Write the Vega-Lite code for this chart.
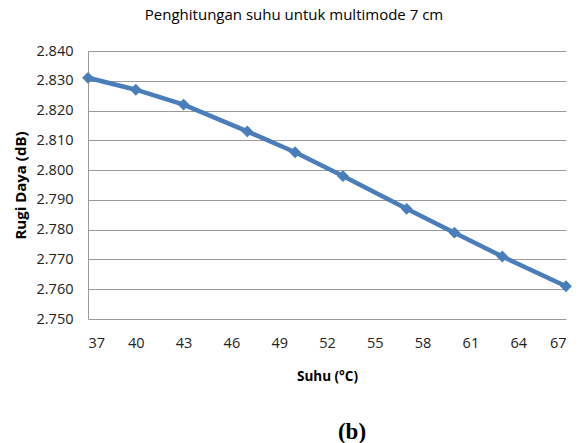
{
  "$schema": "https://vega.github.io/schema/vega-lite/v6.json",
  "padding": {"left": 13, "top": 8, "right": 10, "bottom": 5},
  "background": "white",
  "title": {"text": "(b)", "orient": "bottom", "anchor": "middle", "frame": "bounds", "dx": 58, "font": "Liberation Serif", "fontSize": 23, "fontWeight": "bold", "color": "#000000", "offset": 38},
  "vconcat": [
    {
      "width": 478,
      "height": 268,
      "title": {"text": "Penghitungan  suhu untuk multimode 7 cm", "font": "Open Sans", "fontSize": 15, "fontWeight": "normal", "color": "#000000", "anchor": "middle", "frame": "bounds", "offset": 20},
      "data": {"values": [
        {"suhu": 37, "rugi": 2.831},
        {"suhu": 40, "rugi": 2.827},
        {"suhu": 43, "rugi": 2.822},
        {"suhu": 47, "rugi": 2.813},
        {"suhu": 50, "rugi": 2.806},
        {"suhu": 53, "rugi": 2.798},
        {"suhu": 57, "rugi": 2.787},
        {"suhu": 60, "rugi": 2.779},
        {"suhu": 63, "rugi": 2.771},
        {"suhu": 67, "rugi": 2.761}
      ]},
      "mark": {"type": "line", "color": "#4a7ebb", "strokeWidth": 4.5, "point": {"shape": "diamond", "size": 140, "filled": true, "color": "#4a7ebb"}},
      "encoding": {
        "x": {"field": "suhu", "type": "quantitative", "title": "Suhu (°C)",
          "scale": {"domain": [37, 67], "nice": false, "zero": false},
          "axis": {"values": [37, 40, 43, 46, 49, 52, 55, 58, 61, 64, 67], "grid": false, "domain": false, "ticks": false, "labelPadding": 17, "labelFont": "Open Sans", "labelFontSize": 14.5, "labelColor": "#222222", "titleFont": "Open Sans", "titleFontSize": 13.5, "titleFontWeight": "bold", "titleColor": "#000000", "titlePadding": 20}},
        "y": {"field": "rugi", "type": "quantitative", "title": "Rugi Daya  (dB)",
          "scale": {"domain": [2.75, 2.84], "nice": false, "zero": false},
          "axis": {"values": [2.75, 2.76, 2.77, 2.78, 2.79, 2.8, 2.81, 2.82, 2.83, 2.84], "format": ".3f", "grid": true, "gridColor": "#9a9a9a", "gridWidth": 1, "domain": true, "domainColor": "#9a9a9a", "ticks": false, "labelPadding": 15, "labelFont": "Open Sans", "labelFontSize": 14.5, "labelColor": "#222222", "titleFont": "Open Sans", "titleFontSize": 15, "titleFontWeight": "bold", "titleColor": "#000000", "titlePadding": 8}}
      }
    }
  ],
  "config": {"view": {"stroke": null}}
}
